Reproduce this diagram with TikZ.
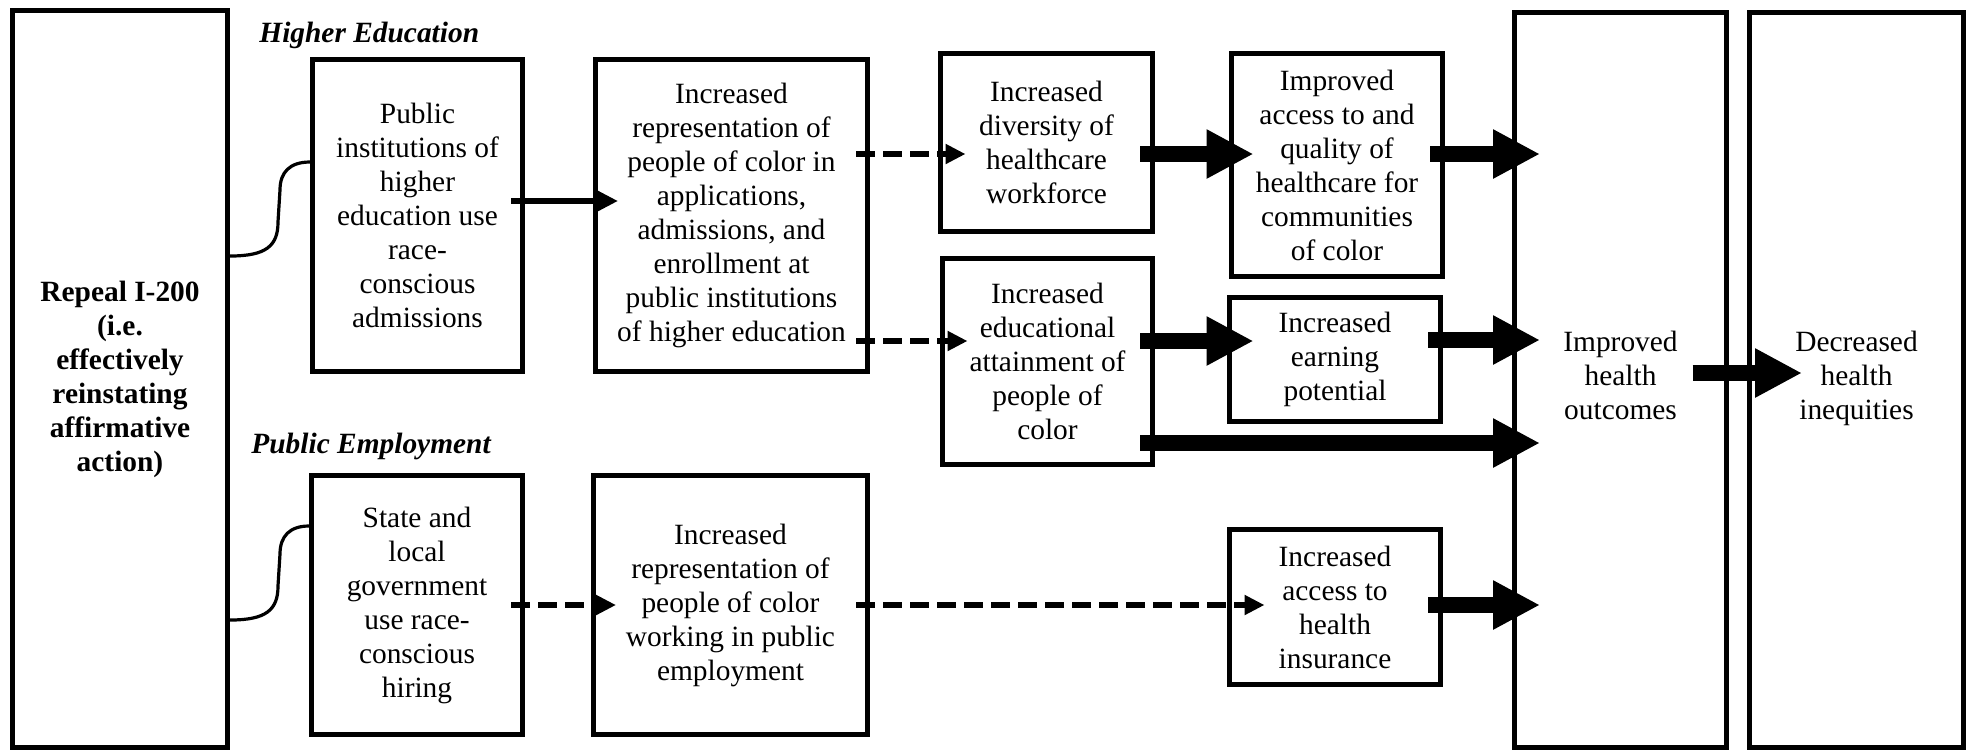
\documentclass[tikz,border=0pt]{standalone}
\usepackage{fontspec}
\setmainfont{Liberation Serif}
\usetikzlibrary{arrows.meta}

\tikzset{
    box/.style={draw, line width=2.5pt, align=center, inner sep=2pt,
        font=\fontsize{14.7}{17}\selectfont},
    heading/.style={anchor=base west, inner sep=0pt,
        font=\fontsize{14.7}{17}\selectfont\bfseries\itshape},
    thinarr/.style={line width=2.6pt, -{Triangle[length=10pt,width=9.5pt]},
        shorten <=-7pt, shorten >=-12.5pt},
    dasharr/.style={thinarr, dash pattern=on 9.5pt off 4pt},
    bigarr/.style={line width=8pt, -{Triangle[length=23.5pt,width=23pt]},
        shorten <=-7.5pt, shorten >=-14pt},
    link/.style={line width=1.6pt},
}

\begin{document}
\begin{tikzpicture}[x=0.5pt, y=-0.5pt]
        \useasboundingbox (0,0) rectangle (1969,752);

        % Policy box on the left
        \node[box, minimum width=107.5pt, minimum height=368.5pt, font=\fontsize{14.7}{17}\selectfont\bfseries]
            (repeal) at (120,379) {Repeal I-200\\(i.e.\\effectively\\reinstating\\affirmative\\action)};

        % Higher education pathway
        \node[heading] (hehead) at (259,42) {Higher Education};
        \node[box, minimum width=105pt, minimum height=156pt] (pubhe) at (417.5,215.5)
            {Public\\institutions of\\higher\\education use\\race-\\conscious\\admissions};
        \node[box, minimum width=136pt, minimum height=156pt] (rephe) at (731.5,215.5)
            {Increased\\representation of\\people of color in\\applications,\\admissions, and\\enrollment at\\public institutions\\of higher education};
        \node[box, minimum width=106pt, minimum height=89pt] (divers) at (1046.5,142.5)
            {Increased\\diversity of\\healthcare\\workforce};
        \node[box, minimum width=105.5pt, minimum height=111.5pt] (access) at (1337,165)
            {Improved\\access to and\\quality of\\healthcare for\\communities\\of color};
        \node[box, minimum width=105pt, minimum height=103pt] (edu) at (1047.5,361.5)
            {Increased\\educational\\attainment of\\people of\\color};
        \node[box, minimum width=105.5pt, minimum height=62pt] (earn) at (1335,359.5)
            {Increased\\earning\\potential};

        % Public employment pathway
        \node[heading] (pehead) at (251,453) {Public Employment};
        \node[box, minimum width=105.5pt, minimum height=129.5pt] (state) at (417,605)
            {State and\\local\\government\\use race-\\conscious\\hiring};
        \node[box, minimum width=137pt, minimum height=129.5pt] (reppe) at (730.5,605)
            {Increased\\representation of\\people of color\\working in public\\employment};
        \node[box, minimum width=105.5pt, minimum height=77.5pt] (insur) at (1335,607)
            {Increased\\access to\\health\\insurance};

        % Outcomes on the right
        \node[box, minimum width=106pt, minimum height=367.5pt] (outcome) at (1620.5,380)
            {Improved\\health\\outcomes\\[-12pt]};
        \node[box, minimum width=107pt, minimum height=367.5pt] (decr) at (1856.5,380)
            {Decreased\\health\\inequities\\[-12pt]};

        % Curved links from the policy box
        \draw[link] (repeal.east |- 0,256) .. controls (266,256) and (278,246) .. (278,222)
            -- (280,190) .. controls (280,172) and (290,162) .. (pubhe.west |- 0,162);
        \draw[link] (repeal.east |- 0,620) .. controls (266,620) and (278,610) .. (278,586)
            -- (280,554) .. controls (280,536) and (290,526) .. (state.west |- 0,526);

        % Thin arrows
        \draw[thinarr] (pubhe.east |- 0,201) -- (rephe.west |- 0,201);
        \draw[dasharr, shorten >=-13.75pt] (rephe.east |- 0,154) -- (divers.west |- 0,154);
        \draw[dasharr, shorten >=-13.75pt] (rephe.east |- 0,341) -- (edu.west |- 0,341);
        \draw[dasharr] (state.east |- 0,605) -- (reppe.west |- 0,605);
        \draw[dasharr, shorten >=-18.75pt] (reppe.east |- 0,605) -- (insur.west |- 0,605);

        % Block arrows
        \draw[bigarr, shorten >=-12.25pt] (divers.east |- 0,154) -- (access.west |- 0,154);
        \draw[bigarr, shorten >=-13.25pt] (edu.east |- 0,341) -- (earn.west |- 0,341);
        \foreach \src/\row in {access/154, earn/340, edu/443, insur/605} {
            \draw[bigarr] (\src.east |- 0,\row) -- (outcome.west |- 0,\row);
        }
        \draw[bigarr, shorten <=-18.25pt, shorten >=-27.5pt] (outcome.east |- 0,373) -- (decr.west |- 0,373);
\end{tikzpicture}
\end{document}
